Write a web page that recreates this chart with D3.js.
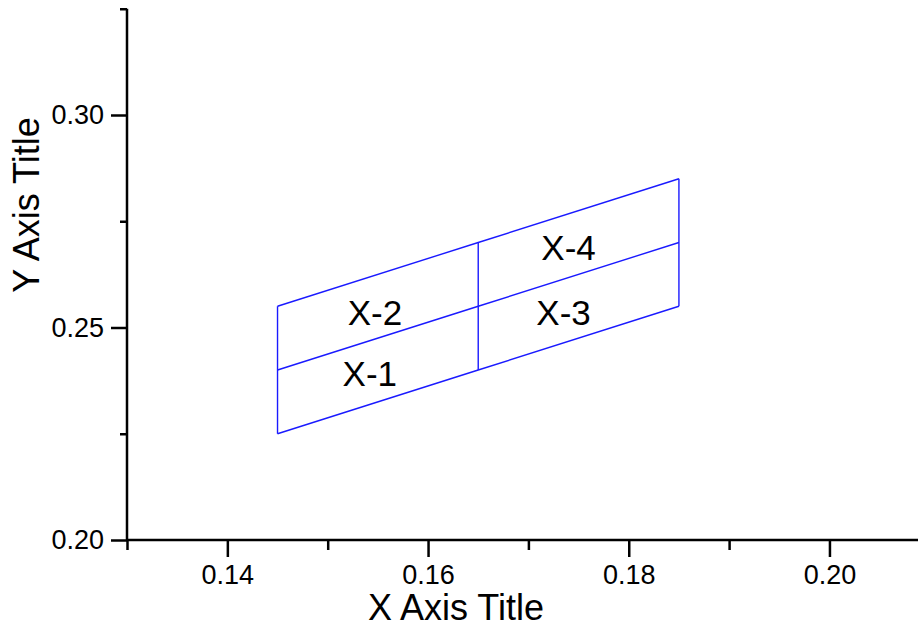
<!DOCTYPE html>
<html>
<head>
<meta charset="utf-8">
<script src="https://cdn.jsdelivr.net/npm/d3@7"></script>
<style>
  body { margin: 0; background: #fff; }
  svg { display: block; }
</style>
</head>
<body>
<div class="chart"></div>
<script>
// grid node x positions and the three rows of y values
const gridX = [0.145, 0.165, 0.185];
const rowLow = [0.225, 0.24, 0.255];
const rowMid = [0.24, 0.255, 0.27];
const rowHigh = [0.255, 0.27, 0.285];

const cellNames = ["X-1", "X-2", "X-3", "X-4"];
const cellX = [0.1542, 0.1547, 0.1735, 0.1740];
const cellY = [0.2391, 0.2536, 0.2536, 0.2689];

const xTicks = [0.14, 0.16, 0.18, 0.20];
const yTicks = [0.20, 0.25, 0.30];

const width = 918, height = 625;
const left = 127, bottom = 540;
const font = "Liberation Sans, Arial, sans-serif";

const svg = d3.select(".chart")
    .append("svg")
    .attr("width", width)
    .attr("height", height);

const x = d3.scaleLinear().domain([0.13, 0.21]).range([left, left + 0.08 * 10035]);
const y = d3.scaleLinear().domain([0.20, 0.325]).range([bottom, bottom - 0.125 * 4250]);

// minor ticks first, then major ticks on top
const xMinor = d3.axisBottom(x).tickValues([0.13, 0.15, 0.17, 0.19, 0.21]).tickSize(10).tickFormat("");
const yMinor = d3.axisLeft(y).tickValues([0.225, 0.275, 0.325]).tickSize(7).tickFormat("");
svg.append("g").attr("transform", "translate(0," + bottom + ")").call(xMinor);
svg.append("g").attr("transform", "translate(" + left + ",0)").call(yMinor);

const xAxis = d3.axisBottom(x).tickValues(xTicks).tickSize(17).tickPadding(8).tickFormat(d3.format(".2f"));
const yAxis = d3.axisLeft(y).tickValues(yTicks).tickSize(16).tickPadding(7).tickFormat(d3.format(".2f"));
svg.append("g").attr("transform", "translate(0," + bottom + ")").call(xAxis);
svg.append("g").attr("transform", "translate(" + left + ",0)").call(yAxis);

svg.selectAll(".domain").remove();
svg.selectAll(".tick line").attr("stroke", "#000").attr("stroke-width", 2.5);
svg.selectAll(".tick text")
    .attr("fill", "#000")
    .style("font-family", font)
    .style("font-size", "27px");

// axis lines
svg.append("line")
    .attr("x1", x(0.13)).attr("x2", width)
    .attr("y1", y(0.20)).attr("y2", y(0.20))
    .attr("stroke", "#000").attr("stroke-width", 2.5);
svg.append("line")
    .attr("x1", x(0.13)).attr("x2", x(0.13))
    .attr("y1", y(0.325)).attr("y2", y(0.20))
    .attr("stroke", "#000").attr("stroke-width", 2.5);

// the mesh
const rows = [rowLow, rowMid, rowHigh];
const line = d3.line().x((d, i) => x(gridX[i])).y(d => y(d));
svg.selectAll("path.row")
    .data(rows)
    .enter()
    .append("path")
    .attr("class", "row")
    .attr("d", line)
    .attr("fill", "none")
    .attr("stroke", "#1a1aff")
    .attr("stroke-width", 1.4);
svg.selectAll("line.col")
    .data(gridX)
    .enter()
    .append("line")
    .attr("class", "col")
    .attr("x1", d => x(d)).attr("x2", d => x(d))
    .attr("y1", (d, i) => y(rowLow[i]))
    .attr("y2", (d, i) => y(rowHigh[i]))
    .attr("stroke", "#1a1aff")
    .attr("stroke-width", 1.4);

svg.selectAll("text.cell")
    .data(cellNames)
    .enter()
    .append("text")
    .attr("class", "cell")
    .attr("x", (d, i) => x(cellX[i]))
    .attr("y", (d, i) => y(cellY[i]))
    .attr("text-anchor", "middle")
    .attr("dominant-baseline", "central")
    .style("font-family", font)
    .style("font-size", "35px")
    .text(d => d);

// axis titles
svg.append("text")
    .attr("x", 456)
    .attr("y", 620)
    .attr("text-anchor", "middle")
    .style("font-family", font)
    .style("font-size", "36px")
    .text("X Axis Title");
svg.append("text")
    .attr("transform", "translate(39,205) rotate(-90)")
    .attr("text-anchor", "middle")
    .style("font-family", font)
    .style("font-size", "36px")
    .text("Y Axis Title");
</script>
</body>
</html>
